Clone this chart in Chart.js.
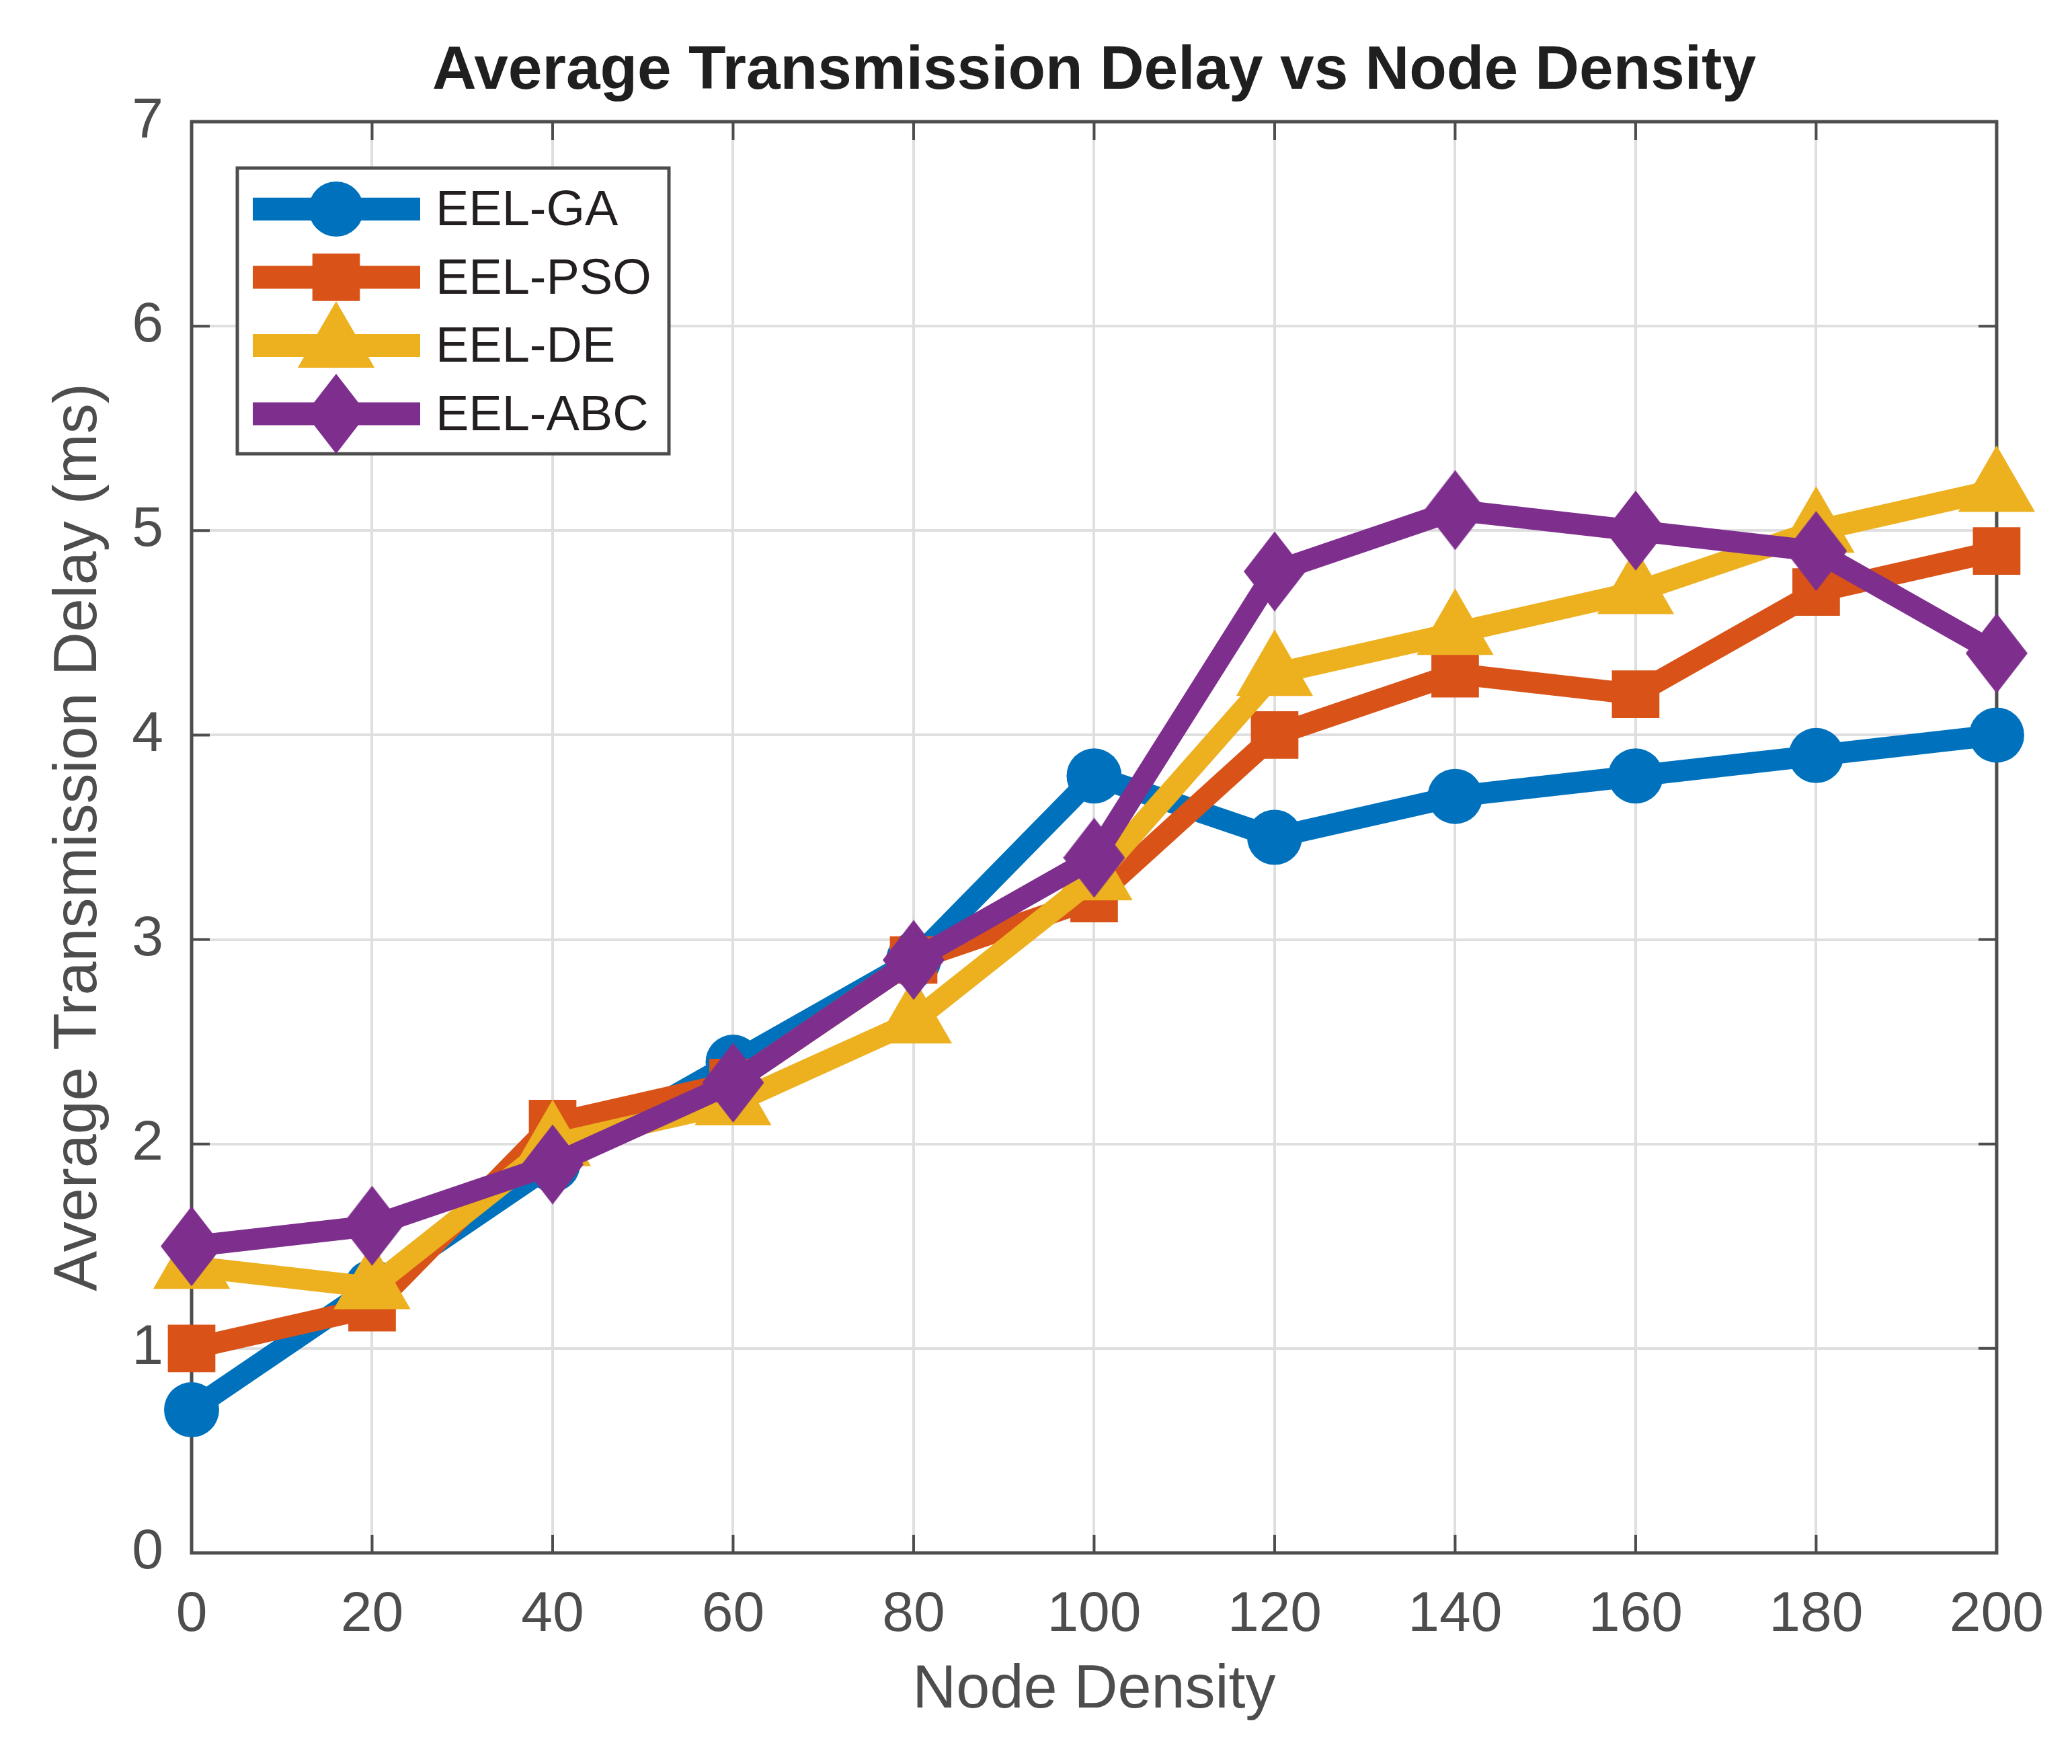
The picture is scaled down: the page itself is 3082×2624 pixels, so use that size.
<!DOCTYPE html>
<html>
<head>
<meta charset="utf-8">
<title>Average Transmission Delay vs Node Density</title>
<script src="https://cdn.jsdelivr.net/npm/chart.js@4.4.1/dist/chart.umd.min.js"></script>
<style>
    html, body { margin: 0; padding: 0; background: #ffffff; }
    #delay-chart { display: block; }
</style>
</head>
<body>
<canvas id="delay-chart" width="3082" height="2624"></canvas>
<script>
// values
const nodeDensity = [0, 20, 40, 60, 80, 100, 120, 140, 160, 180, 200];
const eelGA  = [0.7, 1.3, 1.9, 2.4, 2.9, 3.8, 3.5, 3.7, 3.8, 3.9, 4.0];
const eelPSO = [1.0, 1.2, 2.1, 2.3, 2.9, 3.2, 4.0, 4.3, 4.2, 4.7, 4.9];
const eelDE  = [1.4, 1.3, 2.0, 2.2, 2.6, 3.3, 4.3, 4.5, 4.7, 5.0, 5.2];
const eelABC = [1.5, 1.6, 1.9, 2.3, 2.9, 3.4, 4.8, 5.1, 5.0, 4.9, 4.4];
const seriesNames = ['EEL-GA', 'EEL-PSO', 'EEL-DE', 'EEL-ABC'];
const delayTicks = [0, 1, 2, 3, 4, 5, 6, 7];

const fontFamily = "'Liberation Sans', Arial, Helvetica, sans-serif";
const axisGrey = '#4d4d4d';
const colors = {
    blue: '#0072bd',
    orange: '#d95319',
    yellow: '#edb120',
    purple: '#7e2f8e'
};

function diamondMarker(color, w, h) {
    let c = document.createElement('canvas');
    c.width = w;
    c.height = h;
    let g = c.getContext('2d');
    g.fillStyle = color;
    g.beginPath();
    g.moveTo(w / 2, 0);
    g.lineTo(w, h / 2);
    g.lineTo(w / 2, h);
    g.lineTo(0, h / 2);
    g.closePath();
    g.fill();
    return c;
}

function toPoints(values) {
    return nodeDensity.map((x, i) => ({x: x, y: values[i]}));
}

function buildSeries(label, values, color, pointStyle, radius, order) {
    return {
        label: label,
        data: toPoints(values),
        borderColor: color,
        backgroundColor: color,
        borderWidth: 32,
        pointStyle: pointStyle,
        pointRadius: radius,
        pointHoverRadius: radius,
        pointBackgroundColor: color,
        pointBorderWidth: 0,
        tension: 0,
        clip: false,
        order: order
    };
}

// MATLAB style box: full frame with inward ticks on every side
const axisFrame = {
    id: 'axisFrame',
    beforeDatasetsDraw(chart) {
        let ctx = chart.ctx;
        let a = chart.chartArea;
        let xs = chart.scales.x;
        let ys = chart.scales.y;
        ctx.save();
        ctx.strokeStyle = axisGrey;
        ctx.lineWidth = 4;
        ctx.beginPath();
        nodeDensity.forEach(v => {
            let px = xs.getPixelForValue(v);
            ctx.moveTo(px, a.bottom);
            ctx.lineTo(px, a.bottom - 27);
            ctx.moveTo(px, a.top);
            ctx.lineTo(px, a.top + 27);
        });
        delayTicks.forEach(v => {
            let py = ys.getPixelForValue(v);
            ctx.moveTo(a.left, py);
            ctx.lineTo(a.left + 27, py);
            ctx.moveTo(a.right, py);
            ctx.lineTo(a.right - 27, py);
        });
        ctx.stroke();
        ctx.lineWidth = 5;
        ctx.strokeRect(a.left, a.top, a.right - a.left, a.bottom - a.top);
        ctx.restore();
    }
};

// boxed legend inside the axes, line sample + marker like MATLAB
const boxLegend = {
    id: 'boxLegend',
    afterDraw(chart) {
        let ctx = chart.ctx;
        let a = chart.chartArea;
        let left = a.left + 68;
        let top = a.top + 69;
        let w = 642;
        let h = 425;
        ctx.save();
        ctx.fillStyle = '#ffffff';
        ctx.fillRect(left, top, w, h);
        ctx.strokeStyle = axisGrey;
        ctx.lineWidth = 5;
        ctx.strokeRect(left, top, w, h);

        chart.data.datasets.forEach((ds, i) => {
            let rowY = top + 61 + i * 101.5;
            ctx.fillStyle = ds.borderColor;
            ctx.fillRect(left + 23, rowY - 17, 249, 34);
            Chart.helpers.drawPoint(ctx, {
                pointStyle: ds.pointStyle,
                radius: ds.pointRadius,
                rotation: 0,
                borderWidth: 0
            }, left + 147, rowY);
            ctx.fillStyle = '#231f20';
            ctx.font = '74px ' + fontFamily;
            ctx.textAlign = 'left';
            ctx.textBaseline = 'middle';
            ctx.fillText(ds.label, left + 295, rowY + 4);
        });
        ctx.restore();
    }
};

let canvas = document.getElementById('delay-chart');
let ctx1 = canvas.getContext('2d');

let chartData = {
    type: 'line',
    data: {
        datasets: [
            buildSeries(seriesNames[0], eelGA, colors.blue, 'circle', 41, 3),
            buildSeries(seriesNames[1], eelPSO, colors.orange, 'rect', 50, 2),
            buildSeries(seriesNames[2], eelDE, colors.yellow, 'triangle', 66, 1),
            buildSeries(seriesNames[3], eelABC, colors.purple, diamondMarker(colors.purple, 92, 119), 46, 0)
        ]
    },
    options: {
        responsive: false,
        devicePixelRatio: 1,
        animation: false,
        layout: {
            padding: {left: 0, right: 106, top: 0, bottom: 0}
        },
        plugins: {
            legend: {display: false},
            tooltip: {enabled: false},
            title: {
                display: true,
                fullSize: false,
                text: 'Average Transmission Delay vs Node Density',
                color: '#1f1f1f',
                font: {size: 91, weight: 'bold', family: fontFamily, lineHeight: 1.2},
                padding: {top: 52, bottom: 19.8}
            }
        },
        scales: {
            x: {
                type: 'linear',
                min: 0,
                max: 200,
                afterBuildTicks: scale => {
                    scale.ticks = nodeDensity.map(v => ({value: v}));
                },
                afterFit: scale => {
                    scale.height = 314;
                },
                grid: {color: '#dfdfdf', lineWidth: 4, drawTicks: false},
                border: {display: false},
                ticks: {
                    color: axisGrey,
                    font: {size: 84, family: fontFamily},
                    padding: 42,
                    maxRotation: 0,
                    autoSkip: false
                },
                title: {
                    display: true,
                    text: 'Node Density',
                    color: axisGrey,
                    font: {size: 90, family: fontFamily, lineHeight: 1.2},
                    padding: {top: 0, bottom: 55}
                }
            },
            y: {
                type: 'linear',
                min: 0,
                max: 7,
                afterBuildTicks: scale => {
                    scale.ticks = delayTicks.map(v => ({value: v}));
                },
                afterFit: scale => {
                    scale.width = 285;
                },
                grid: {color: '#dfdfdf', lineWidth: 4, drawTicks: false},
                border: {display: false},
                ticks: {
                    color: axisGrey,
                    font: {size: 84, family: fontFamily},
                    padding: 42
                },
                title: {
                    display: true,
                    text: 'Average Transmission Delay (ms)',
                    color: axisGrey,
                    font: {size: 90, family: fontFamily, lineHeight: 1.2},
                    padding: {top: 64, bottom: 0}
                }
            }
        }
    },
    plugins: [axisFrame, boxLegend]
};

let delayChart = new Chart(ctx1, chartData);
</script>
</body>
</html>
